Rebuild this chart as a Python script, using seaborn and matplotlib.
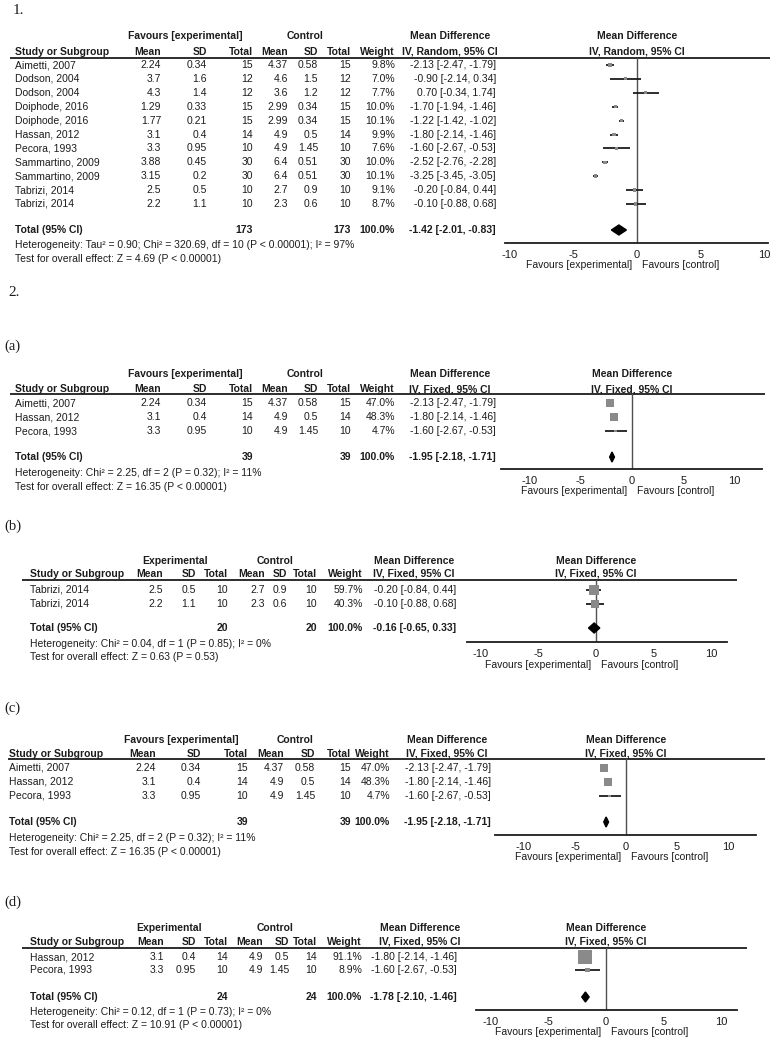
import matplotlib
matplotlib.use("Agg")
import matplotlib.pyplot as plt
import seaborn as sns, numpy as np

### data

# 1. all studies (random effects)
P1_STUDY    = ["Aimetti, 2007", "Dodson, 2004", "Dodson, 2004", "Doiphode, 2016", "Doiphode, 2016", "Hassan, 2012",
               "Pecora, 1993", "Sammartino, 2009", "Sammartino, 2009", "Tabrizi, 2014", "Tabrizi, 2014"]
P1_EXP_MEAN = [2.24, 3.7, 4.3, 1.29, 1.77, 3.1, 3.3, 3.88, 3.15, 2.5, 2.2]
P1_EXP_SD   = [0.34, 1.6, 1.4, 0.33, 0.21, 0.4, 0.95, 0.45, 0.2, 0.5, 1.1]
P1_EXP_N    = [15, 12, 12, 15, 15, 14, 10, 30, 30, 10, 10]
P1_CTL_MEAN = [4.37, 4.6, 3.6, 2.99, 2.99, 4.9, 4.9, 6.4, 6.4, 2.7, 2.3]
P1_CTL_SD   = [0.58, 1.5, 1.2, 0.34, 0.34, 0.5, 1.45, 0.51, 0.51, 0.9, 0.6]
P1_CTL_N    = [15, 12, 12, 15, 15, 14, 10, 30, 30, 10, 10]
P1_WEIGHT   = [9.8, 7.0, 7.7, 10.0, 10.1, 9.9, 7.6, 10.0, 10.1, 9.1, 8.7]
P1_MD       = [-2.13, -0.90, 0.70, -1.70, -1.22, -1.80, -1.60, -2.52, -3.25, -0.20, -0.10]
P1_LO       = [-2.47, -2.14, -0.34, -1.94, -1.42, -2.14, -2.67, -2.76, -3.45, -0.84, -0.88]
P1_HI       = [-1.79, 0.34, 1.74, -1.46, -1.02, -1.46, -0.53, -2.28, -3.05, 0.44, 0.68]
P1_TOTAL    = [173, 173, -1.42, -2.01, -0.83]
P1_NOTES    = ["Heterogeneity: Tau² = 0.90; Chi² = 320.69, df = 10 (P < 0.00001); I² = 97%",
               "Test for overall effect: Z = 4.69 (P < 0.00001)"]

# 2(a) and 2(c)
PA_STUDY    = ["Aimetti, 2007", "Hassan, 2012", "Pecora, 1993"]
PA_EXP_MEAN = [2.24, 3.1, 3.3]
PA_EXP_SD   = [0.34, 0.4, 0.95]
PA_EXP_N    = [15, 14, 10]
PA_CTL_MEAN = [4.37, 4.9, 4.9]
PA_CTL_SD   = [0.58, 0.5, 1.45]
PA_CTL_N    = [15, 14, 10]
PA_WEIGHT   = [47.0, 48.3, 4.7]
PA_MD       = [-2.13, -1.80, -1.60]
PA_LO       = [-2.47, -2.14, -2.67]
PA_HI       = [-1.79, -1.46, -0.53]
PA_TOTAL    = [39, 39, -1.95, -2.18, -1.71]
PA_NOTES    = ["Heterogeneity: Chi² = 2.25, df = 2 (P = 0.32); I² = 11%",
               "Test for overall effect: Z = 16.35 (P < 0.00001)"]

# 2(b)
PB_STUDY    = ["Tabrizi, 2014", "Tabrizi, 2014"]
PB_EXP_MEAN = [2.5, 2.2]
PB_EXP_SD   = [0.5, 1.1]
PB_EXP_N    = [10, 10]
PB_CTL_MEAN = [2.7, 2.3]
PB_CTL_SD   = [0.9, 0.6]
PB_CTL_N    = [10, 10]
PB_WEIGHT   = [59.7, 40.3]
PB_MD       = [-0.20, -0.10]
PB_LO       = [-0.84, -0.88]
PB_HI       = [0.44, 0.68]
PB_TOTAL    = [20, 20, -0.16, -0.65, 0.33]
PB_NOTES    = ["Heterogeneity: Chi² = 0.04, df = 1 (P = 0.85); I² = 0%",
               "Test for overall effect: Z = 0.63 (P = 0.53)"]

# 2(d)
PD_STUDY    = ["Hassan, 2012", "Pecora, 1993"]
PD_EXP_MEAN = [3.1, 3.3]
PD_EXP_SD   = [0.4, 0.95]
PD_EXP_N    = [14, 10]
PD_CTL_MEAN = [4.9, 4.9]
PD_CTL_SD   = [0.5, 1.45]
PD_CTL_N    = [14, 10]
PD_WEIGHT   = [91.1, 8.9]
PD_MD       = [-1.80, -1.60]
PD_LO       = [-2.14, -2.67]
PD_HI       = [-1.46, -0.53]
PD_TOTAL    = [24, 24, -1.78, -2.10, -1.46]
PD_NOTES    = ["Heterogeneity: Chi² = 0.12, df = 1 (P = 0.73); I² = 0%",
               "Test for overall effect: Z = 10.91 (P < 0.00001)"]

TICKS = [-10, -5, 0, 5, 10]
COL_HEADS = ["Mean", "SD", "Total", "Mean", "SD", "Total", "Weight"]

### layout (pixel positions)

W, H = 777, 1039
INK = "#1c1c1c"
FS = 7.5

sns.set_style("white")
plt.rcParams["font.family"] = ["Liberation Sans", "DejaVu Sans"]

fig = plt.figure(figsize=(W / 100, H / 100), dpi=100)
bg = fig.add_axes([0, 0, 1, 1])
bg.set_xlim(0, W)
bg.set_ylim(H, 0)
bg.axis("off")


def txt(x, y, s, ha="left", bold=False, size=FS, **kw):
    bg.text(x, y, s, ha=ha, va="center", fontsize=size, color=INK,
            fontweight="bold" if bold else "normal", **kw)


def draw_panel(lay, study, em, esd, en, cm, csd, cn, wt, md, lo, hi, total, notes, head1, model):
    c, L, z = lay["cols"], lay["left"], lay["zero"]

    if "label" in lay:
        txt(4, lay["label_y"], lay["label"], family="Liberation Serif", size=10.5)

    # headers
    txt(lay["h1c"][0], lay["h1"], head1, ha="center", bold=True)
    txt(lay["h1c"][1], lay["h1"], "Control", ha="center", bold=True)
    txt(lay["h1c"][2], lay["h1"], "Mean Difference", ha="center", bold=True)
    txt(z, lay["h1"], "Mean Difference", ha="center", bold=True)
    txt(L, lay["h2"], "Study or Subgroup", bold=True)
    for x, s in zip(c[:7], COL_HEADS):
        txt(x, lay["h2"], s, ha="right", bold=True)
    ci_head = "IV, " + model + ", 95% CI"
    txt(lay["h1c"][2], lay["h2"], ci_head, ha="center", bold=True)
    txt(z, lay["h2"], ci_head, ha="center", bold=True)
    bg.hlines(lay["line"], lay["lx"][0], lay["lx"][1], color=INK, lw=1.3)

    # study rows
    rows = lay["rows"]
    for i, y in enumerate(rows):
        txt(L, y, study[i])
        vals = [f"{em[i]:g}", f"{esd[i]:g}", str(en[i]), f"{cm[i]:g}", f"{csd[i]:g}", str(cn[i]),
                f"{wt[i]:.1f}%", f"{md[i]:.2f} [{lo[i]:.2f}, {hi[i]:.2f}]"]
        for x, s in zip(c, vals):
            txt(x, y, s, ha="right")

    # total row + notes
    ty = lay["total"]
    txt(L, ty, "Total (95% CI)", bold=True)
    txt(c[2], ty, str(total[0]), ha="right", bold=True)
    txt(c[5], ty, str(total[1]), ha="right", bold=True)
    txt(c[6], ty, "100.0%", ha="right", bold=True)
    txt(c[7], ty, f"{total[2]:.2f} [{total[3]:.2f}, {total[4]:.2f}]", ha="right", bold=True)
    txt(L, lay["notes"][0], notes[0])
    txt(L, lay["notes"][1], notes[1])

    # forest
    x0, x1 = lay["ax_x"]
    ay, top, ppu = lay["axis_y"], lay["line"], lay["ppu"]
    ax = fig.add_axes([x0 / W, 1 - ay / H, (x1 - x0) / W, (ay - top) / H])
    ax.patch.set_alpha(0)
    ax.set_xlim((x0 - z) / ppu, (x1 - z) / ppu)
    ax.set_ylim(ay, top)
    for s in ["top", "left", "right"]:
        ax.spines[s].set_visible(False)
    ax.spines["bottom"].set_linewidth(1.3)
    ax.spines["bottom"].set_color(INK)
    ax.set_yticks([])
    ax.set_xticks(TICKS, [str(t) for t in TICKS])
    ax.tick_params(axis="x", direction="inout", length=8, width=1.2, pad=1.0,
                   labelsize=FS + 0.5, colors=INK)
    ax.axvline(0, color="#505050", lw=1, zorder=1)
    ax.hlines(rows, lo, hi, color=INK, lw=1.3, zorder=2)
    side = lay["k"] * np.sqrt(np.array(wt)) * 0.72
    sns.scatterplot(x=md, y=rows, marker="s", s=side ** 2, color="#8a8a8a",
                    linewidth=0, ax=ax, legend=False, zorder=3)
    dh = lay["dh"]
    ax.fill([total[3], total[2], total[4], total[2]], [ty, ty - dh, ty, ty + dh],
            color="black", zorder=4)
    ax.set_xlabel("")
    ax.set_ylabel("")

    fy = lay["fav_y"]
    txt(z - 5, fy, "Favours [experimental]", ha="right")
    txt(z + 5, fy, "Favours [control]")


wide_cols = [161, 207, 253, 288, 318, 351, 395, 496]

lay1 = dict(left=15, cols=wide_cols, h1=36, h2=52, line=58, lx=(10, 770),
            h1c=(185, 305, 450), rows=list(65 + 13.9 * np.arange(11)), total=230,
            notes=(245, 259), zero=637, ppu=12.75, ax_x=(505, 768), axis_y=243,
            fav_y=265, k=1.1, dh=5)

layA = dict(label="(a)", label_y=346, left=15, cols=wide_cols, h1=374, h2=389, line=394,
            lx=(10, 765), h1c=(185, 305, 450), rows=[403, 417, 431], total=457,
            notes=(473, 487), zero=632, ppu=10.25, ax_x=(501, 762), axis_y=469,
            fav_y=491, k=1.15, dh=5)

layB = dict(label="(b)", label_y=526, left=30, cols=[163, 196, 228, 265, 287, 317, 363, 456],
            h1=561, h2=574, line=580, lx=(22, 737), h1c=(175, 275, 414),
            rows=[590, 604], total=628, notes=(644, 657), zero=596, ppu=11.55,
            ax_x=(467, 727), axis_y=642, fav_y=665, k=1.3, dh=5)

layC = dict(label="(c)", label_y=708, left=9, cols=[156, 201, 248, 284, 315, 351, 390, 491],
            h1=740, h2=754, line=759, lx=(8, 765), h1c=(181, 295, 447),
            rows=[768, 782, 796], total=822, notes=(838, 852), zero=626, ppu=10.2,
            ax_x=(495, 756), axis_y=835, fav_y=857, k=1.15, dh=5)

layD = dict(label="(d)", label_y=902, left=30, cols=[164, 196, 228, 263, 289, 317, 362, 457],
            h1=928, h2=942, line=948, lx=(22, 747), h1c=(169, 275, 420),
            rows=[957, 970], total=997, notes=(1012, 1025), zero=606, ppu=11.55,
            ax_x=(476, 737), axis_y=1010, fav_y=1032, k=1.47, dh=5)

###

txt(13, 10, "1.", family="Liberation Serif", size=11)
txt(8, 292, "2.", family="Liberation Serif", size=11)

draw_panel(lay1, P1_STUDY, P1_EXP_MEAN, P1_EXP_SD, P1_EXP_N, P1_CTL_MEAN, P1_CTL_SD, P1_CTL_N,
           P1_WEIGHT, P1_MD, P1_LO, P1_HI, P1_TOTAL, P1_NOTES, "Favours [experimental]", "Random")
draw_panel(layA, PA_STUDY, PA_EXP_MEAN, PA_EXP_SD, PA_EXP_N, PA_CTL_MEAN, PA_CTL_SD, PA_CTL_N,
           PA_WEIGHT, PA_MD, PA_LO, PA_HI, PA_TOTAL, PA_NOTES, "Favours [experimental]", "Fixed")
draw_panel(layB, PB_STUDY, PB_EXP_MEAN, PB_EXP_SD, PB_EXP_N, PB_CTL_MEAN, PB_CTL_SD, PB_CTL_N,
           PB_WEIGHT, PB_MD, PB_LO, PB_HI, PB_TOTAL, PB_NOTES, "Experimental", "Fixed")
draw_panel(layC, PA_STUDY, PA_EXP_MEAN, PA_EXP_SD, PA_EXP_N, PA_CTL_MEAN, PA_CTL_SD, PA_CTL_N,
           PA_WEIGHT, PA_MD, PA_LO, PA_HI, PA_TOTAL, PA_NOTES, "Favours [experimental]", "Fixed")
draw_panel(layD, PD_STUDY, PD_EXP_MEAN, PD_EXP_SD, PD_EXP_N, PD_CTL_MEAN, PD_CTL_SD, PD_CTL_N,
           PD_WEIGHT, PD_MD, PD_LO, PD_HI, PD_TOTAL, PD_NOTES, "Experimental", "Fixed")

fig.savefig("out.png", dpi=100, facecolor="white")
